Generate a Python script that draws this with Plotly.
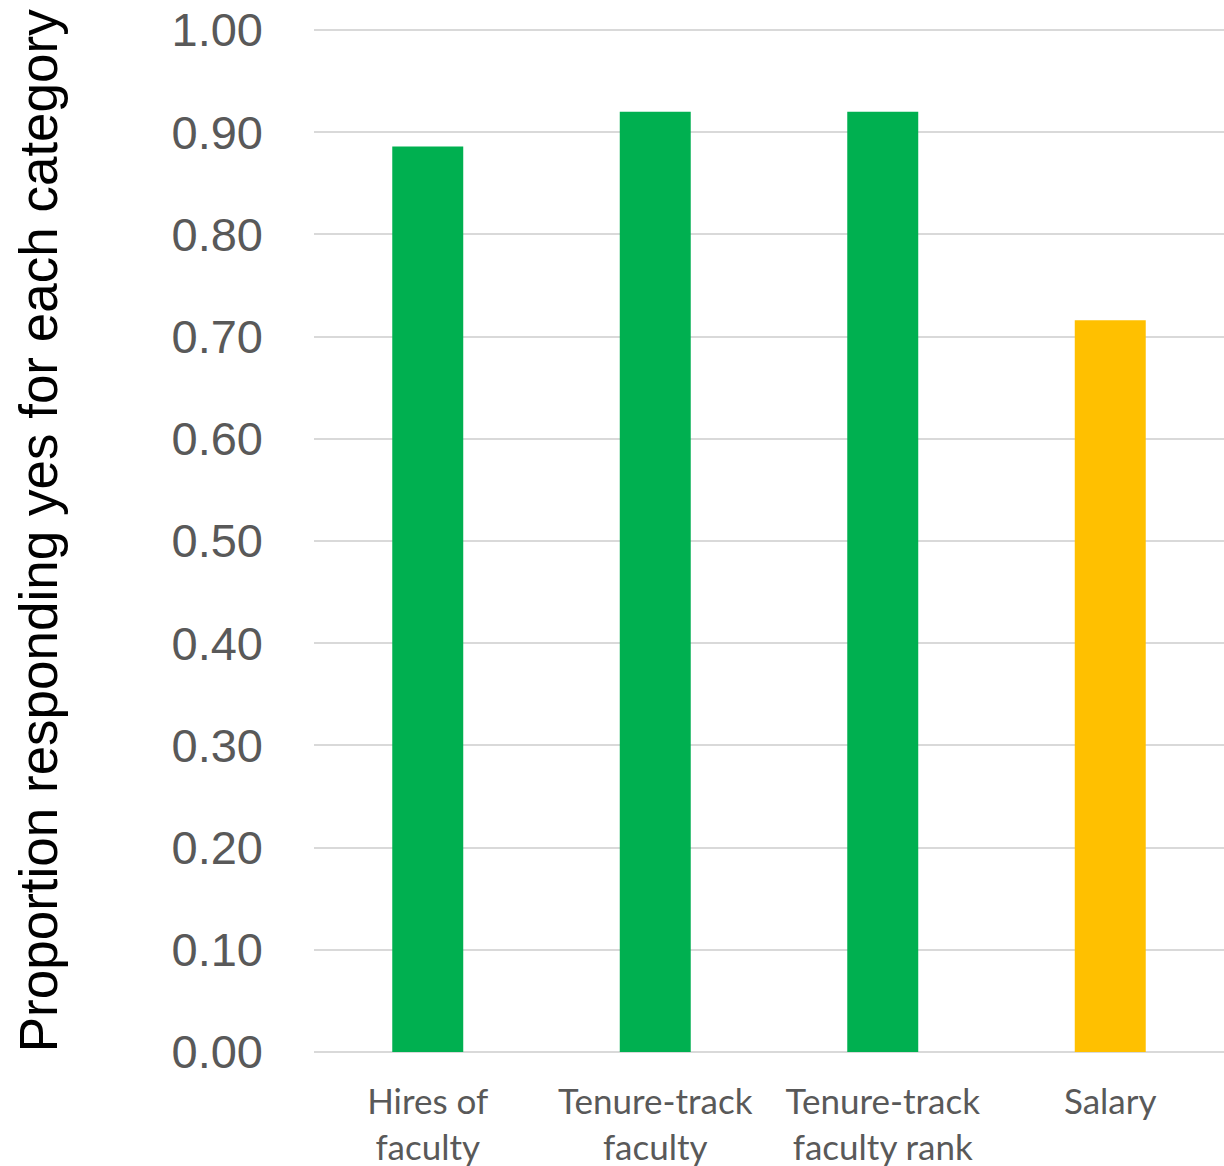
import plotly.graph_objects as go

categories = ["Hires of<br>faculty", "Tenure-track<br>faculty", "Tenure-track<br>faculty rank", "Salary"]
values = [0.886, 0.920, 0.920, 0.716]
colors = ["#00B050", "#00B050", "#00B050", "#FFC000"]
y_ticks = [0.0, 0.1, 0.2, 0.3, 0.4, 0.5, 0.6, 0.7, 0.8, 0.9, 1.0]
y_tick_labels = [f"{v:.2f}" for v in y_ticks]
y_title = "Proportion responding yes for each category"

fig = go.Figure(
    go.Bar(
        x=categories,
        y=values,
        marker=dict(color=colors, line=dict(width=0)),
        width=0.312,
    )
)

fig.update_layout(
    width=1224,
    height=1166,
    margin=dict(l=314, r=0, t=29, b=114),
    paper_bgcolor="white",
    plot_bgcolor="white",
    showlegend=False,
    xaxis=dict(
        showgrid=False,
        showline=False,
        ticks="",
        tickfont=dict(family="Lato, Carlito, Arial", size=35, color="#595959"),
        ticklabelstandoff=26,
    ),
    yaxis=dict(
        range=[0, 1.001],
        tickvals=y_ticks,
        ticktext=y_tick_labels,
        tickfont=dict(family="Liberation Sans, Arial", size=47, color="#595959"),
        showgrid=True,
        gridcolor="#D9D9D9",
        gridwidth=2,
        zeroline=True,
        zerolinecolor="#D9D9D9",
        zerolinewidth=2,
        showline=False,
        ticks="",
        ticklabelstandoff=50,
    ),
    annotations=[
        dict(
            text=y_title,
            textangle=-90,
            xref="paper",
            yref="paper",
            x=-0.3033,
            y=0.510,
            xanchor="center",
            yanchor="middle",
            showarrow=False,
            font=dict(family="Liberation Sans, Arial", size=53, color="black"),
        )
    ],
)

fig.write_html("out.html")
